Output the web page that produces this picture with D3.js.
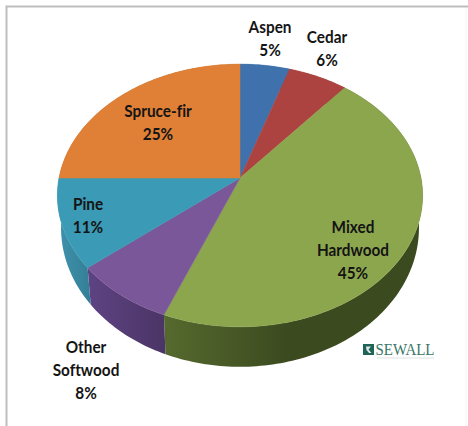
<!DOCTYPE html>
<html>
<head>
<meta charset="utf-8">
<script src="https://cdn.jsdelivr.net/npm/d3@7"></script>
<style>
  html, body { margin: 0; padding: 0; background: #fff; }
  svg { display: block; }
  text { font-family: Lato, "Open Sans", sans-serif; font-weight: 700; font-variant-ligatures: none; }
</style>
</head>
<body>
<svg id="chart" width="468" height="426"></svg>
<script>
// Forest cover by type, share of total area (percent)
const categories = ["Aspen", "Cedar", "Mixed Hardwood", "Other Softwood", "Pine", "Spruce-fir"];
const shares = [5, 6, 45, 8, 11, 25];
const labelLines = [["Aspen"], ["Cedar"], ["Mixed", "Hardwood"], ["Other", "Softwood"], ["Pine"], ["Spruce-fir"]];

const topColors = ["#3f72ad", "#ad4340", "#8ca64e", "#7a5798", "#3b9ab5", "#df8036"];
const wallRamps = [
  ["#2f5683", "#2f5683"],
  ["#83312f", "#83312f"],
  ["#566a2e", "#3b4a1f"],
  ["#5e4383", "#4b3566"],
  ["#3f92ac", "#347f97"],
  ["#a9602a", "#a9602a"]
];
// Horizontal extent of each wall's shading, as [from, to] in page pixels
const wallSpans = [[0, 468], [0, 468], [162, 290], [88, 164], [58, 90], [0, 468]];
// Centre of the first line of each label
const labelAnchors = [[270, 27], [327, 37], [353, 227], [86, 347], [88, 204], [158, 111]];
const lineStep = 23;

const svg = d3.select("#chart");
const cx = 240, cy = 178;
const radiusX = 181, radiusY = 129, tilt = 0.133;
const wallShrink = 0.98;

// Tilted disc: a unit circle seen in perspective, the near edge larger than the far edge
function rimPoint(angle) {
  const u = Math.sin(angle), v = Math.cos(angle), w = 1 + tilt * v;
  return [cx + radiusX * u / w, cy - radiusY * v / w];
}
// Lower rim of the disc: slightly narrower, with a thickness that grows toward the viewer
function lowerRimPoint(angle) {
  const [x, y] = rimPoint(angle);
  return [cx + (x - cx) * wallShrink, y + 31 - 9 * Math.cos(angle)];
}
function arcAngles(a0, a1) {
  const n = Math.max(2, Math.ceil((a1 - a0) / 0.02));
  return d3.range(n + 1).map(i => a0 + (a1 - a0) * i / n);
}

const pie = d3.pie().sort(null).value(d => d).startAngle(0).endAngle(2 * Math.PI);
const slices = pie(shares);
const path = d3.line().curve(d3.curveLinear);

// Page frame
svg.append("path").attr("d", "M6.5,426V6.5H468").attr("fill", "none")
  .attr("stroke", "#bdbdbd").attr("stroke-width", 2);
svg.append("line").attr("x1", 466).attr("x2", 466).attr("y1", 8).attr("y2", 426)
  .attr("stroke", "#f4f4f4");

// Wall shading
const defs = svg.append("defs");
slices.forEach((s, i) => {
  const g = defs.append("linearGradient").attr("id", "wall" + i)
    .attr("gradientUnits", "userSpaceOnUse")
    .attr("x1", wallSpans[i][0]).attr("x2", wallSpans[i][1]).attr("y1", 0).attr("y2", 0);
  g.append("stop").attr("offset", 0).attr("stop-color", wallRamps[i][0]);
  g.append("stop").attr("offset", 1).attr("stop-color", wallRamps[i][1]);
});

// Side walls
svg.append("g").selectAll("path").data(slices).join("path")
  .attr("d", s => {
    const angles = arcAngles(s.startAngle, s.endAngle);
    return path(angles.map(rimPoint).concat(angles.slice().reverse().map(lowerRimPoint))) + "Z";
  })
  .attr("fill", (s, i) => `url(#wall${i})`);

// Top surface
svg.append("g").selectAll("path").data(slices).join("path")
  .attr("d", s => path([[cx, cy]].concat(arcAngles(s.startAngle, s.endAngle).map(rimPoint))) + "Z")
  .attr("fill", (s, i) => topColors[i])
  .attr("stroke", (s, i) => topColors[i])
  .attr("stroke-width", 0.5);

// Labels: name lines followed by the percentage, slightly condensed
const labels = svg.append("g").attr("fill", "#141414").attr("font-size", 16.5).attr("text-anchor", "middle");
categories.forEach((c, i) => {
  const lines = labelLines[i].concat(shares[i] + "%");
  lines.forEach((t, j) => {
    labels.append("text")
      .attr("transform", `translate(${labelAnchors[i][0]},${labelAnchors[i][1] + j * lineStep}) scale(0.93,1)`)
      .attr("dy", "0.35em")
      .text(t);
  });
});

// Company mark
const mark = svg.append("g");
mark.append("rect").attr("x", 363).attr("y", 344).attr("width", 11).attr("height", 11).attr("fill", "#1f6456");
mark.append("path").attr("d", "M366,346.5L371,346.5L368.5,349.5L371.5,353L369,353L366.5,350Z").attr("fill", "#dfeae6");
mark.append("text").attr("x", 375.5).attr("y", 354.5)
  .attr("font-size", 17.5).attr("textLength", 59).attr("lengthAdjust", "spacingAndGlyphs")
  .style("font-family", "'Liberation Serif', serif").style("font-weight", 400)
  .attr("fill", "#3a7568").text("SEWALL");
mark.append("line").attr("x1", 377).attr("x2", 434).attr("y1", 358).attr("y2", 358)
  .attr("stroke", "#dde3e1").attr("stroke-width", 1);
</script>
</body>
</html>
